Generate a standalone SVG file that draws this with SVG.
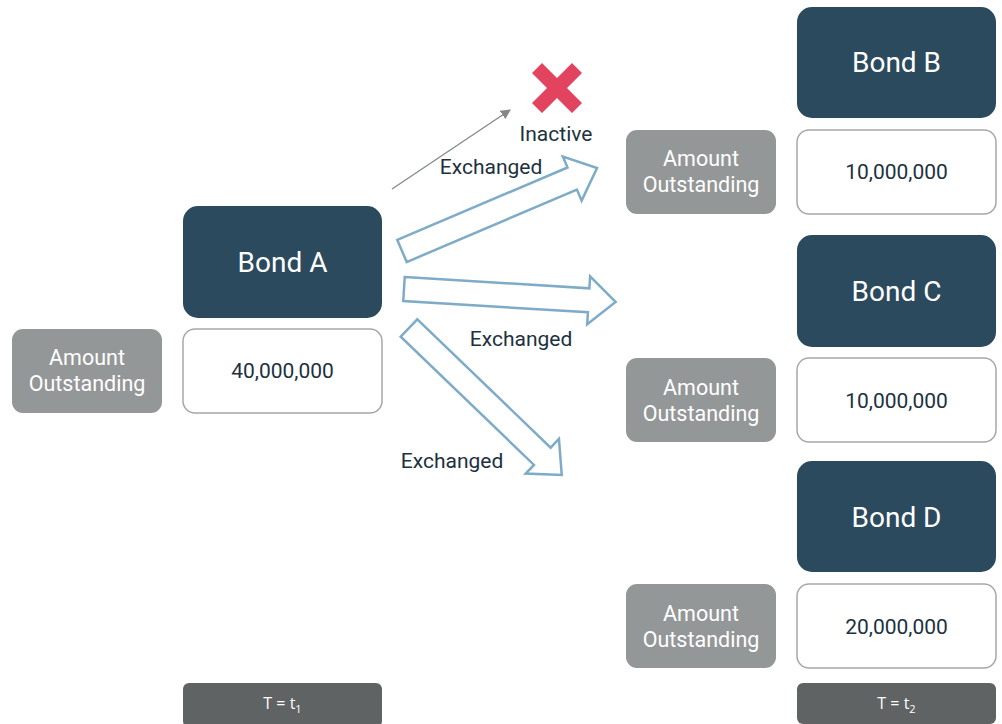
<svg xmlns="http://www.w3.org/2000/svg" width="1002" height="724" viewBox="0 0 1002 724">
<defs>
<style>
.bond{fill:#2b4a5e}
.bt{font-family:Roboto,"Liberation Sans",sans-serif;font-size:28px;fill:#ffffff;text-anchor:middle}
.val{fill:#ffffff;stroke:#a6a8a8;stroke-width:1.5}
.vt{font-family:Roboto,"Liberation Sans",sans-serif;font-size:21px;fill:#1d3140;text-anchor:middle}
.amt{fill:#949798}
.at{font-family:Roboto,"Liberation Sans",sans-serif;font-size:21.5px;fill:#ffffff;text-anchor:middle}
.tb{fill:#606364}
.tt{font-family:"Open Sans","Liberation Sans",sans-serif;font-size:16px;fill:#ffffff;text-anchor:middle}
.lbl{font-family:Roboto,"Liberation Sans",sans-serif;font-size:21px;fill:#1d3140;text-anchor:middle}
.blk{fill:#ffffff;stroke:#7eabc7;stroke-width:2.5;stroke-linejoin:miter}
</style>
<polygon id="blk" points="0,-12 185,-12 185,-24 212,0 185,24 185,12 0,12"/>
<marker id="ah" viewBox="0 0 10 10" refX="9" refY="5" markerWidth="10" markerHeight="10" markerUnits="userSpaceOnUse" orient="auto">
<path d="M0,0 L10,5 L0,10 z" fill="#858889"/>
</marker>
</defs>
<rect width="1002" height="724" fill="#ffffff"/>

<g id="connectors">
<line x1="392" y1="189" x2="510" y2="110" stroke="#858889" stroke-width="1.3" marker-end="url(#ah)"/>
<use href="#blk" class="blk" transform="translate(402,251) rotate(-23.06)"/>
<use href="#blk" class="blk" transform="translate(404,289) rotate(3.5)"/>
<use href="#blk" class="blk" transform="translate(409,328) rotate(43.9)"/>
<text class="lbl" x="491" y="174">Exchanged</text>
<text class="lbl" x="521" y="346">Exchanged</text>
<text class="lbl" x="452" y="468">Exchanged</text>
</g>

<g id="inactive">
<polygon points="532,73 542,63 557,78 572,63 582,73 567,88 582,103 572,113 557,98 542,113 532,103 547,88" fill="#e2435f"/>
<text class="lbl" x="556" y="141">Inactive</text>
</g>

<g id="bondA">
<rect class="bond" x="183" y="206" width="199" height="112" rx="15"/>
<text class="bt" x="282.5" y="272">Bond A</text>
</g>
<g id="valueA">
<rect class="val" x="183" y="329" width="199" height="84" rx="12"/>
<text class="vt" x="282.5" y="378">40,000,000</text>
</g>
<g id="amountA">
<rect class="amt" x="12" y="329" width="150" height="84" rx="11"/>
<text class="at" x="87" y="365">Amount</text>
<text class="at" x="87" y="391">Outstanding</text>
</g>
<g id="timeA">
<rect class="tb" x="183" y="683" width="199" height="44" rx="6"/>
<text class="tt" x="282.5" y="709">T = t<tspan font-size="11" dy="4">1</tspan></text>
</g>

<g id="bondB">
<rect class="bond" x="797" y="7" width="199" height="111" rx="15"/>
<text class="bt" x="896.5" y="72">Bond B</text>
</g>
<g id="valueB">
<rect class="val" x="797" y="130" width="199" height="84" rx="12"/>
<text class="vt" x="896.5" y="179">10,000,000</text>
</g>
<g id="amountB">
<rect class="amt" x="626" y="130" width="150" height="84" rx="11"/>
<text class="at" x="701" y="166">Amount</text>
<text class="at" x="701" y="192">Outstanding</text>
</g>

<g id="bondC">
<rect class="bond" x="797" y="235" width="199" height="112" rx="15"/>
<text class="bt" x="896.5" y="301">Bond C</text>
</g>
<g id="valueC">
<rect class="val" x="797" y="358" width="199" height="84" rx="12"/>
<text class="vt" x="896.5" y="408">10,000,000</text>
</g>
<g id="amountC">
<rect class="amt" x="626" y="358" width="150" height="84" rx="11"/>
<text class="at" x="701" y="395">Amount</text>
<text class="at" x="701" y="421">Outstanding</text>
</g>

<g id="bondD">
<rect class="bond" x="797" y="461" width="199" height="111" rx="15"/>
<text class="bt" x="896.5" y="527">Bond D</text>
</g>
<g id="valueD">
<rect class="val" x="797" y="584" width="199" height="84" rx="12"/>
<text class="vt" x="896.5" y="634">20,000,000</text>
</g>
<g id="amountD">
<rect class="amt" x="626" y="584" width="150" height="84" rx="11"/>
<text class="at" x="701" y="621">Amount</text>
<text class="at" x="701" y="647">Outstanding</text>
</g>
<g id="timeB">
<rect class="tb" x="797" y="683" width="199" height="41" rx="6"/>
<text class="tt" x="896.5" y="709">T = t<tspan font-size="11" dy="4">2</tspan></text>
</g>
</svg>
